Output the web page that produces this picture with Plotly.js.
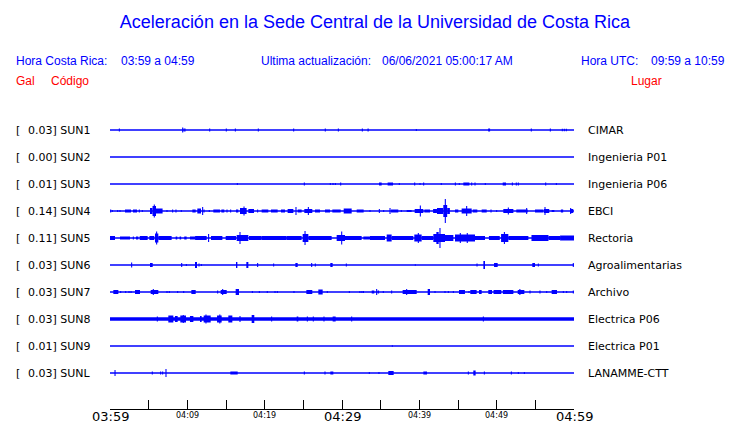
<!DOCTYPE html>
<html><head><meta charset="utf-8">
<script src="https://cdn.plot.ly/plotly-3.0.1.min.js"></script>
<style>html,body{margin:0;padding:0;background:#fff}#c{width:740px;height:423px}</style>
</head><body><div id="c"></div>
<script>
// ---- chart data ----
const stationCodes = ['SUN1','SUN2','SUN3','SUN4','SUN5','SUN6','SUN7','SUN8','SUN9','SUNL'];
const galValues = ['0.03','0.00','0.01','0.14','0.11','0.03','0.03','0.03','0.01','0.03'];
const places = ['CIMAR','Ingenieria P01','Ingenieria P06','EBCI','Rectoria','Agroalimentarias','Archivo','Electrica P06','Electrica P01','LANAMME-CTT'];
const tickMinutes = [0,10,20,30,40,50,60];
const tickLabels = ['03:59','04:09','04:19','04:29','04:39','04:49','04:59'];
const tickIsMajor = [true,false,false,true,false,false,true];

// bursts per station: [start minute, end minute, half amplitude]
const sun1 = [[1.21,1.21,1.5],[9.4,9.4,2.5],[9.57,9.57,1.5],[9.7,9.7,1.5],[12.89,12.89,1.5],[15.04,15.04,1.5],[16.21,16.21,1.5],[19.18,19.18,1.5],[23.75,23.75,1.5],[27.84,27.84,1.5],[29.53,29.53,1.5],[32.63,32.63,1.5],[33.3,33.45,1.5],[39.61,39.61,1],[48.9,49.15,1.5],[54.48,54.48,1.5],[56.94,56.94,1.5],[58.49,58.49,1.2],[58.75,58.75,1.2],[59.01,59.01,1.2]];
const sun2 = [];
const sun3 = [[16.47,16.47,1],[25.13,25.13,1.5],[28.49,28.49,1],[28.84,28.84,1],[29.14,29.14,1],[29.83,29.83,1.5],[34.78,35.13,1.5],[35.9,36.6,1.5],[37.41,37.41,1],[39.4,39.4,1.5],[40.09,40.09,1],[40.56,40.56,1.5],[42.84,42.84,1],[44.66,44.66,1.5],[45.17,45.17,1],[45.69,46.47,1.5],[46.77,46.77,1.5],[47.2,47.2,1.5],[48.53,48.53,1],[50.78,51.21,1.5],[52.03,52.03,1.5],[52.54,52.54,1.5],[52.8,52.8,1.5],[56.34,56.34,1.5],[57.72,57.72,1]];
const sun4 = [[0.09,0.09,1.5],[0.3,0.3,1],[0.99,0.99,1],[1.29,1.29,1],[1.94,2.72,1.5],[2.97,3.49,1.5],[3.79,3.79,1.5],[4.18,4.18,1],[5.17,5.5,3],[5.5,5.95,5],[5.73,5.73,6.5],[5.95,6.8,2.5],[7.37,7.37,1],[8.1,8.1,1.5],[8.53,8.53,1.5],[9.22,9.22,1],[10.65,11.08,1.5],[11.29,11.77,2.5],[11.98,11.98,4],[12.16,12.16,1.5],[12.84,12.84,1],[13.36,14.22,1.5],[14.4,14.78,1.5],[15.13,15.13,1.5],[15.6,15.6,1.5],[16.29,16.59,1.5],[16.81,17.67,3],[17.33,17.33,4.5],[17.89,18.62,2],[19.09,19.09,1.5],[19.61,20.47,1.5],[20.82,21.68,1.5],[22.11,22.63,1.5],[22.97,23.71,2],[24.05,24.05,4],[24.27,24.78,1.5],[25.13,26.16,2],[25.65,25.65,4],[26.51,27.16,1.5],[27.8,28.45,1.5],[28.75,29.83,1.5],[30.22,31.25,2.5],[31.9,32.8,1.5],[33.62,33.62,1],[34.83,34.83,2],[35.39,35.39,1],[36.21,36.21,3],[36.34,37.28,1.5],[37.67,37.67,1],[38.36,39.0,1],[39.4,40.52,2],[40.13,40.13,5.5],[40.65,41.38,1.5],[41.78,42.28,2],[42.28,43.1,3],[43.1,43.6,6],[43.36,43.36,12],[43.6,43.95,3],[44.61,45.04,1.5],[45.47,46.77,2.5],[46.12,46.12,5],[46.9,47.5,1.5],[48.06,48.71,1.5],[49.27,49.27,1.5],[50.0,50.0,1],[50.86,52.16,2],[51.51,51.51,3.5],[52.54,54.01,1.5],[53.88,53.88,3],[54.96,56.03,1.5],[56.1,56.8,2],[56.25,56.25,4],[57.11,57.46,1],[58.3,58.6,1.5],[59.48,59.91,2],[59.57,59.57,3]];
const sun5 = [[0.0,0.65,2],[1.29,2.59,1.5],[3.02,3.02,1.5],[3.36,3.66,1.5],[3.84,4.87,2],[5.09,5.73,2],[5.82,6.25,4.5],[6.03,6.03,6.5],[6.25,7.97,2],[8.49,8.7,1.5],[9.0,9.2,1.5],[9.6,9.91,1.5],[10.34,11.0,1.5],[11.0,12.5,2],[12.7,12.8,4],[13.06,14.53,2],[14.96,16.29,2],[16.38,17.89,3],[16.81,16.81,6],[17.97,19.61,2],[19.61,22.84,2],[22.84,24.78,2],[24.91,25.65,4],[25.22,25.22,7],[25.65,28.66,2],[29.31,30.39,3],[29.96,29.96,6.5],[30.39,32.54,2],[32.76,33.62,1.5],[33.62,35.56,2],[35.78,36.42,3.5],[36.42,39.22,2],[39.35,40.3,3.5],[39.87,39.87,5],[40.3,41.81,2],[41.81,43.32,4],[42.2,42.5,6],[42.67,42.67,10],[43.32,44.4,3],[44.61,47.2,3.5],[45.3,45.3,5],[46.2,46.2,5],[47.2,48.49,2],[49.0,50.4,2],[50.57,51.51,4],[51.0,51.0,6],[51.51,54.1,2],[54.5,56.7,3],[56.7,58.2,2],[58.2,60,2.5]];
const sun6 = [[2.8,2.8,2.5],[5.17,5.52,2],[9.27,9.27,2],[9.87,9.87,1],[10.99,11.25,3],[11.51,11.51,1.5],[11.81,11.81,1],[16.29,16.47,3],[17.63,17.89,3],[19.09,19.09,2],[21.16,21.16,1.5],[23.97,24.27,2],[26.08,26.08,2],[26.55,26.55,1.5],[28.49,28.79,2],[30.56,30.56,1.5],[39.48,39.48,0.8],[47.46,47.46,1.5],[48.28,48.49,4],[49.66,50.13,2],[54.61,54.96,2],[55.39,55.39,1.5],[59.91,59.91,2]];
const sun7 = [[0.43,1.08,2],[1.38,1.38,1],[2.03,2.03,1],[2.46,2.46,1],[2.72,2.72,1],[3.23,3.88,2],[5.26,6.25,2],[5.6,5.6,3],[7.37,7.37,1],[7.67,7.67,1],[8.75,8.75,1],[9.53,9.53,1],[10.52,11.08,2],[13.92,13.92,1.5],[14.31,15.09,2],[14.57,14.57,3],[16.25,16.68,3],[18.41,18.41,1],[19.31,19.31,1],[20.34,20.34,1],[21.34,21.34,1],[21.64,21.64,1],[23.79,23.79,1],[25.39,26.16,2],[26.94,27.5,2.5],[28.1,28.1,1],[30.95,30.95,1],[32.28,32.35,1],[32.55,32.6,1],[32.75,32.8,1],[33.84,34.18,1.5],[34.48,34.48,3],[34.6,34.8,1.5],[35.34,35.34,1],[36.42,36.42,1.5],[37.84,39.66,2],[38.36,38.36,3],[41.08,41.38,3],[42.03,42.03,1],[43.32,43.32,1],[43.75,43.75,1],[44.4,44.4,1],[45.13,45.9,2],[46.42,46.42,1],[46.59,47.41,2],[47.72,48.06,2],[48.92,49.4,2],[49.6,50.6,2],[50.8,52.16,2],[52.72,53.58,2],[53.0,53.0,3],[54.31,54.31,1.5],[55.6,55.6,1.5],[56.47,56.47,1],[57.11,57.8,2],[58.62,58.62,1],[59.05,59.05,1],[59.91,59.91,1.5]];
const sun8 = [[0,60,1.7],[6.12,6.12,2.5],[7.54,8.19,3.5],[8.4,8.75,3],[9.09,9.83,3.5],[9.48,9.48,4],[10.34,10.78,3],[11.64,11.85,3],[12.11,13.02,3.5],[12.41,12.41,4.5],[13.84,14.44,3.5],[14.2,14.2,4.5],[15.3,15.82,3.5],[16.81,16.81,3],[18.32,18.66,4],[20.9,20.9,2.5],[24.14,24.35,2.5],[25.52,25.52,2.5],[26.29,26.29,2.5],[27.67,27.67,2.5],[28.79,29.18,2.5],[31.25,31.25,2.5],[48.28,48.28,2.5]];
const sun9 = [[36.51,36.51,0.8]];
const sunl = [[0.65,0.65,3],[5.47,5.47,1.5],[6.55,6.55,1.5],[6.81,6.81,1.5],[7.24,7.24,4],[15.56,16.51,1.5],[25.13,25.13,1.5],[27.8,27.8,1.5],[28.49,28.88,1.5],[33.53,33.53,1],[34.78,34.78,1],[35.99,36.68,2],[40.52,40.99,1.5],[46.34,46.34,1.5],[46.98,47.28,2.5],[48.41,48.41,1.5],[51.9,51.9,1.5],[52.8,52.8,1],[53.58,53.58,1]];
const bursts = [sun1,sun2,sun3,sun4,sun5,sun6,sun7,sun8,sun9,sunl];

// ---- layout constants ----
const W = 740, H = 423;
const L = 110, R = 166, T = 116, B = 14;
const plotW = W - L - R, plotH = H - T - B;
const BLUE = '#0000ff', RED = '#ff0000';
const rowOffset = i => 279 - 27 * i;          // vertical centre of each station (axis units = px)
const pxToPaperX = px => (px - L) / plotW;
const MINW = 0.14;

const traces = [];
bursts.forEach((list, i) => {
  const off = rowOffset(i);
  traces.push({type:'scatter', mode:'lines', x:[0,60], y:[off,off],
    line:{color:BLUE, width:1.3}, hoverinfo:'skip', showlegend:false});
  if (list.length) {
    traces.push({type:'bar',
      x: list.map(b => (b[0]+b[1])/2),
      width: list.map(b => Math.max(b[1]-b[0], MINW)),
      base: list.map(b => off - b[2]),
      y: list.map(b => 2*b[2]),
      marker:{color:BLUE, line:{width:0}}, hoverinfo:'skip', showlegend:false});
  }
});

const ann = [];
stationCodes.forEach((code, i) => {
  const off = rowOffset(i);
  ann.push({xref:'paper', yref:'y', x:pxToPaperX(14), y:off, xanchor:'left', yanchor:'middle', showarrow:false,
    text:'[', font:{family:'DejaVu Sans', size:11, color:'#000'}});
  ann.push({xref:'paper', yref:'y', x:pxToPaperX(26), y:off, xanchor:'left', yanchor:'middle', showarrow:false,
    text:galValues[i] + '] ' + code, font:{family:'DejaVu Sans', size:11, color:'#000'}});
  ann.push({xref:'paper', yref:'y', x:pxToPaperX(586), y:off, xanchor:'left', yanchor:'middle', showarrow:false,
    text:places[i], font:{family:'DejaVu Sans', size:11, color:'#000'}});
});
tickMinutes.forEach((m, k) => {
  const big = tickIsMajor[k];
  ann.push({xref:'x', yref:'paper', x:m, y:big ? -(416-409)/plotH : -(415-409)/plotH,
    xanchor:'center', yanchor:'middle', showarrow:false, text:tickLabels[k],
    font:{family:'DejaVu Sans', size: big ? 13 : 8, color:'#000'}});
});
const hdr = (px, py, text, color) => ({xref:'paper', yref:'paper', x:pxToPaperX(px), y:1 + (T - py)/plotH,
  xanchor:'left', yanchor:'middle', showarrow:false, text, font:{family:'Liberation Sans', size:12, color}});
ann.push(hdr(14, 61, 'Hora Costa Rica:', BLUE));
ann.push(hdr(119, 61, '03:59 a 04:59', BLUE));
ann.push(hdr(259, 61, 'Ultima actualización:', BLUE));
ann.push(hdr(380, 61, '06/06/2021 05:00:17 AM', BLUE));
ann.push(hdr(579, 61, 'Hora UTC:', BLUE));
ann.push(hdr(649, 61, '09:59 a 10:59', BLUE));
ann.push(hdr(14, 81, 'Gal', RED));
ann.push(hdr(49, 81, 'Código', RED));
ann.push(hdr(629, 81, 'Lugar', RED));

const layout = {
  width:W, height:H, margin:{l:L, r:R, t:T, b:B, pad:0},
  paper_bgcolor:'#fff', plot_bgcolor:'#fff',
  title:{text:'Aceleración en la Sede Central de la Universidad de Costa Rica',
    font:{family:'Liberation Sans', size:18, color:BLUE},
    x:375/W, xanchor:'center', xref:'container', y:1 - 22/H, yanchor:'middle', yref:'container'},
  barmode:'overlay', showlegend:false,
  xaxis:{range:[0,60], showgrid:false, zeroline:false, showline:true, linecolor:'#000', linewidth:1,
    tickvals:tickMinutes, showticklabels:false, ticks:'inside', ticklen:9, tickcolor:'#000', tickwidth:1,
    minor:{dtick:5, tick0:0, ticks:'inside', ticklen:9, tickcolor:'#000', tickwidth:1}, fixedrange:true},
  yaxis:{range:[0,plotH], visible:false, fixedrange:true},
  annotations:ann
};
Plotly.newPlot('c', traces, layout, {staticPlot:true, displayModeBar:false});
</script></body></html>
